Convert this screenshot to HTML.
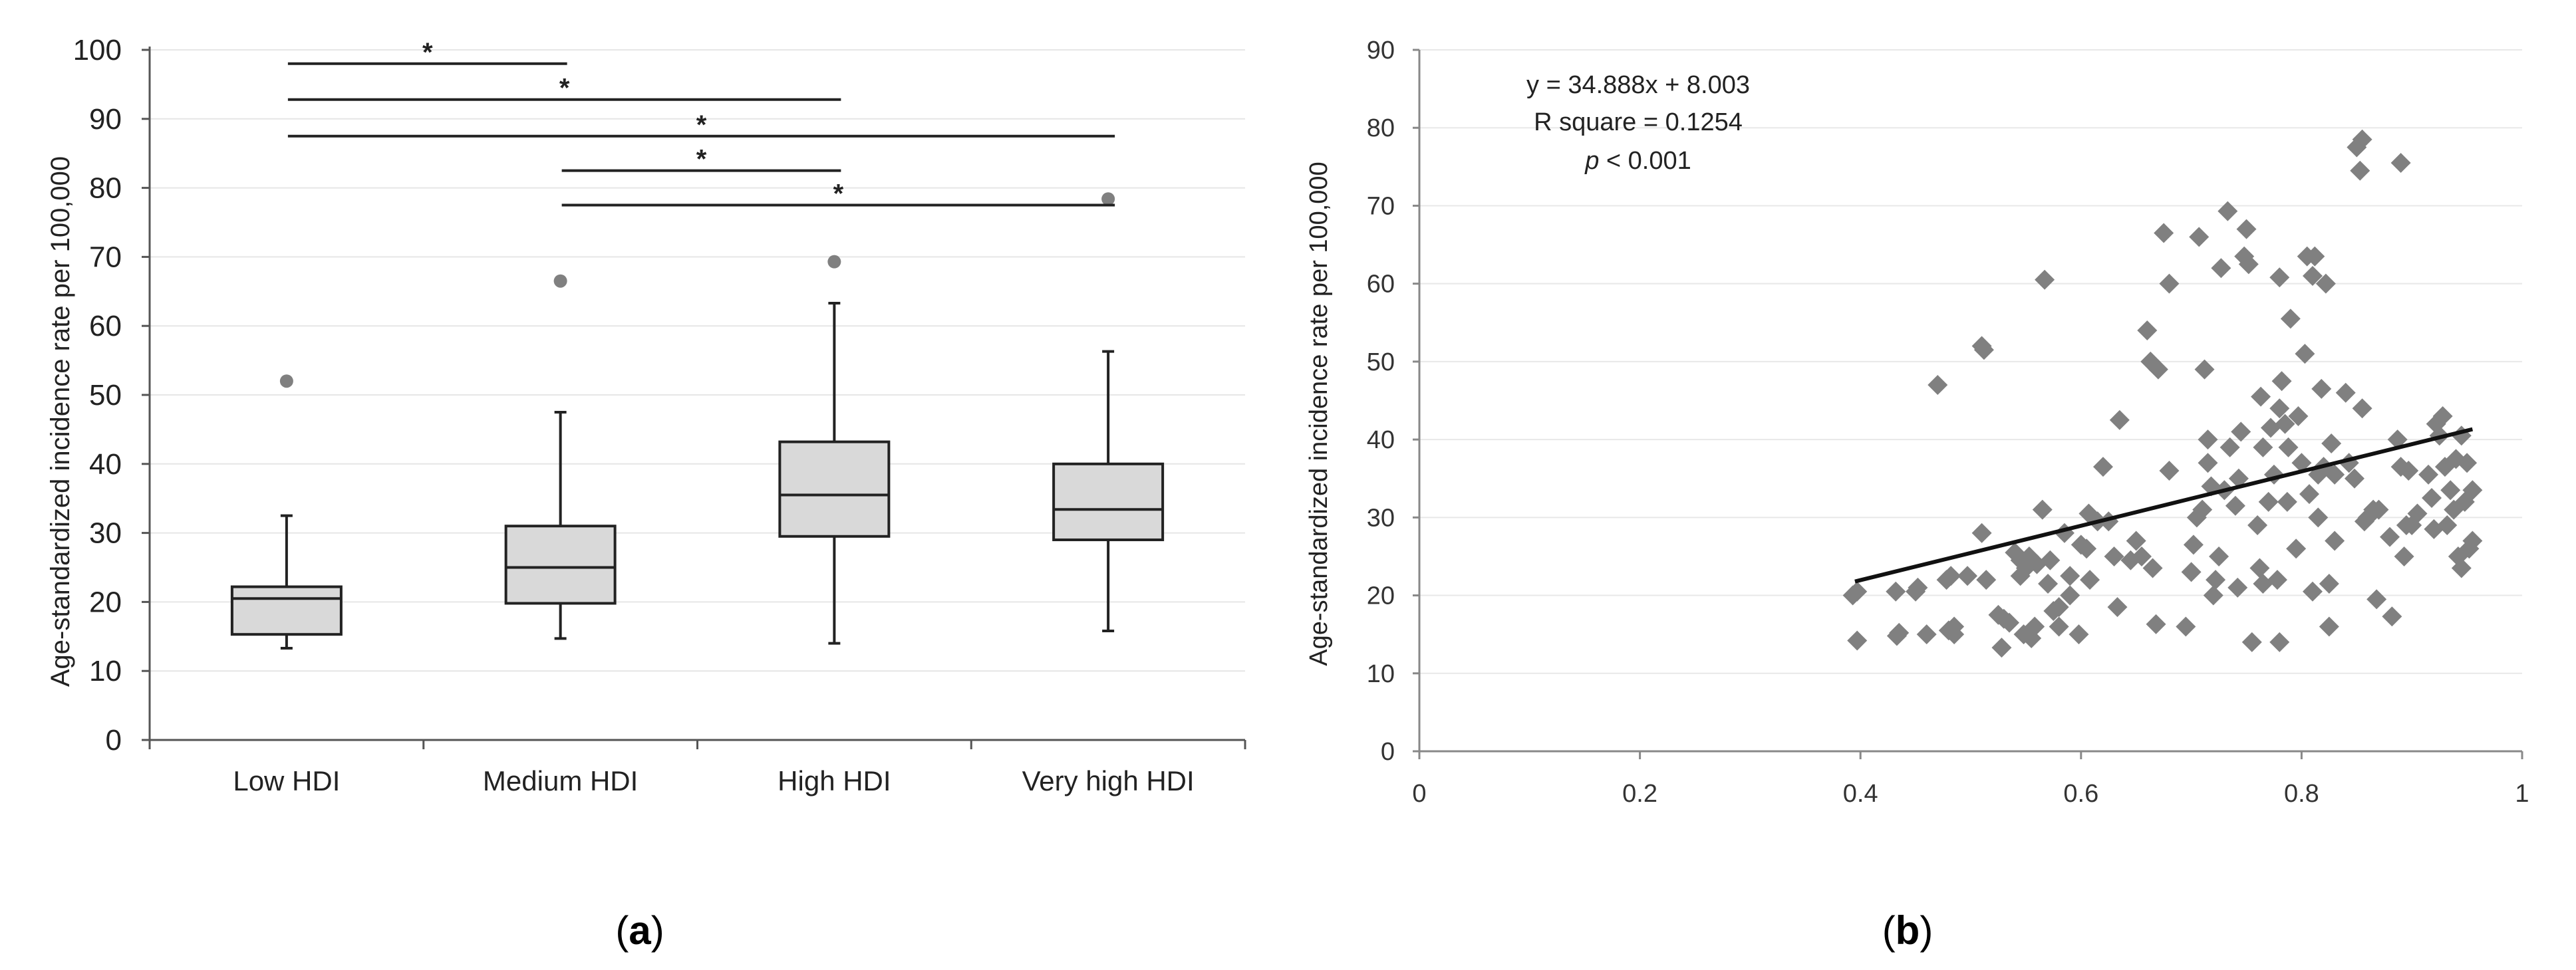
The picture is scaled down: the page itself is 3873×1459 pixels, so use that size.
<!DOCTYPE html>
<html><head><meta charset="utf-8"><style>
html,body{margin:0;padding:0;background:#fff;}
svg{display:block;}
text{font-family:"Liberation Sans",sans-serif;}
</style></head><body>
<svg id="svg" width="3873" height="1459" viewBox="0 0 3873 1459" xmlns="http://www.w3.org/2000/svg">
<g id="pa"></g>
<g id="pb"></g>
<text x="962" y="1420" font-family="Liberation Serif,serif" font-size="60" text-anchor="middle">(<tspan font-weight="bold">a</tspan>)</text>
<text x="2868" y="1420" font-family="Liberation Serif,serif" font-size="60" text-anchor="middle">(<tspan font-weight="bold">b</tspan>)</text>
</svg>
<script>
// Panel A data
const categories=["Low HDI","Medium HDI","High HDI","Very high HDI"];
const whiskerLow=[13.3,14.7,14.0,15.8];
const q1=[15.3,19.8,29.5,29.0];
const medians=[20.5,25.0,35.5,33.4];
const q3=[22.2,31.0,43.2,40.0];
const whiskerHigh=[32.5,47.5,63.3,56.3];
const outliers=[52.0,66.5,69.3,78.4];
const yTicksA=[0,10,20,30,40,50,60,70,80,90,100];
const sigFrom=[0,0,0,1,1];
const sigTo=[1,2,3,2,3];
const sigLevel=[98,92.8,87.5,82.5,77.5];
// Panel B data
const hdi=[0.393,0.397,0.397,0.432,0.433,0.435,0.45,0.452,0.46,0.47,0.478,0.482,0.48,0.485,0.485,0.497,0.51,0.51,0.512,0.514,0.525,0.53,0.528,0.535,0.54,0.545,0.545,0.55,0.553,0.548,0.555,0.558,0.56,0.565,0.567,0.57,0.572,0.575,0.58,0.58,0.585,0.59,0.59,0.598,0.6,0.605,0.607,0.608,0.615,0.62,0.625,0.63,0.633,0.635,0.645,0.65,0.655,0.66,0.663,0.665,0.668,0.67,0.675,0.68,0.68,0.695,0.7,0.702,0.705,0.707,0.71,0.712,0.715,0.715,0.718,0.72,0.722,0.725,0.727,0.73,0.733,0.735,0.74,0.742,0.743,0.745,0.748,0.75,0.752,0.755,0.76,0.762,0.763,0.765,0.765,0.77,0.772,0.775,0.778,0.78,0.78,0.78,0.782,0.785,0.787,0.788,0.79,0.795,0.797,0.8,0.803,0.805,0.807,0.81,0.81,0.812,0.815,0.815,0.818,0.82,0.822,0.825,0.825,0.827,0.83,0.83,0.84,0.843,0.848,0.85,0.853,0.855,0.855,0.857,0.86,0.865,0.868,0.87,0.88,0.882,0.887,0.89,0.89,0.893,0.895,0.897,0.9,0.905,0.915,0.918,0.92,0.922,0.925,0.928,0.93,0.932,0.935,0.938,0.94,0.942,0.945,0.945,0.948,0.95,0.952,0.955,0.955];
const rate=[20,20.5,14.2,20.5,14.8,15.2,20.5,21,15,47,22,22.5,15.5,16,15,22.5,28,52,51.5,22,17.5,17,13.3,16.5,25.5,22.5,24.5,23.5,25,15,14.5,16,24,31,60.5,21.5,24.5,18,18.5,16,28,22.5,20,15,26.5,26,30.5,22,29.5,36.5,29.5,25,18.5,42.5,24.5,27,25,54,50,23.5,16.3,49,66.5,60,36,16,23,26.5,30,66,31,49,37,40,34,20,22,25,62,33.5,69.3,39,31.5,21,35,41,63.5,67,62.5,14,29,23.5,45.5,39,21.5,32,41.5,35.5,22,44,60.8,14,47.5,42,32,39,55.5,26,43,37,51,63.5,33,61,20.5,63.5,35.5,30,46.5,36.5,60,21.5,16,39.5,27,35.5,46,37,35,77.5,74.5,78.5,44,29.5,30,31,19.5,31,27.5,17.3,40,75.5,36.5,25,29,36,29,30.5,35.5,32.5,28.5,42,40.5,43,36.5,29,33.5,31,37.5,25,40.5,23.5,32,37,26,33.5,27];
const xTicksB=[0,0.2,0.4,0.6,0.8,1];
const xTickLabelsB=["0","0.2","0.4","0.6","0.8","1"];
const yTicksB=[0,10,20,30,40,50,60,70,80,90];
const slope=34.888, intercept=8.003, fitStart=0.395, fitEnd=0.955;

const NS="http://www.w3.org/2000/svg";
function mk(p,t,a,txt){const e=document.createElementNS(NS,t);for(const k in a)e.setAttribute(k,a[k]);if(txt!==undefined)e.textContent=txt;p.appendChild(e);return e;}

// ---- Panel A ----
const pa=document.getElementById('pa');
const axL=225,axR=1872,yTop=75,yBot=1113;
const ya=v=>yBot-(v/100)*(yBot-yTop);
const bandW=(axR-axL)/categories.length;
const xc=i=>axL+bandW*(i+0.5);
yTicksA.forEach(t=>{
  if(t>0){const g=mk(pa,'line',{x1:axL,x2:axR,y1:ya(t),y2:ya(t),stroke:'#e6e6e6','stroke-width':2});
  
  }
  const tk=mk(pa,'line',{x1:axL-12,x2:axL,y1:ya(t),y2:ya(t),stroke:'#555','stroke-width':3});
  
  
  const l=mk(pa,'text',{x:183,y:ya(t)+15,'font-size':44,'text-anchor':'end',fill:'#222'},String(t));
  
  
});
const axy=mk(pa,'line',{x1:axL,x2:axL,y1:yTop-5,y2:yBot,stroke:'#555','stroke-width':3});


const axx=mk(pa,'line',{x1:axL,x2:axR,y1:yBot,y2:yBot,stroke:'#555','stroke-width':3});


for(let i=0;i<=categories.length;i++){const t=mk(pa,'line',{x1:axL+bandW*i,x2:axL+bandW*i,y1:yBot,y2:yBot+14,stroke:'#555','stroke-width':3});

}
const yt=mk(pa,'text',{x:0,y:0,'font-size':40,'text-anchor':'middle',fill:'#222',transform:`translate(104,${(yTop+yBot)/2+40}) rotate(-90)`},'Age-standardized  incidence rate per 100,000');


const bw=164;
categories.forEach((c,i)=>{
  const x=xc(i);
  const cl=mk(pa,'text',{x:x,y:1189,'font-size':42,'text-anchor':'middle',fill:'#222'},c);
  
  
  const g=mk(pa,'g',{});
  
  
  mk(g,'line',{x1:x,x2:x,y1:ya(whiskerHigh[i]),y2:ya(q3[i]),stroke:'#222','stroke-width':4});
  mk(g,'line',{x1:x,x2:x,y1:ya(q1[i]),y2:ya(whiskerLow[i]),stroke:'#222','stroke-width':4});
  mk(g,'line',{x1:x-9,x2:x+9,y1:ya(whiskerHigh[i]),y2:ya(whiskerHigh[i]),stroke:'#222','stroke-width':4});
  mk(g,'line',{x1:x-9,x2:x+9,y1:ya(whiskerLow[i]),y2:ya(whiskerLow[i]),stroke:'#222','stroke-width':4});
  mk(g,'rect',{x:x-bw/2,y:ya(q3[i]),width:bw,height:ya(q1[i])-ya(q3[i]),fill:'#d9d9d9',stroke:'#222','stroke-width':4});
  mk(g,'line',{x1:x-bw/2,x2:x+bw/2,y1:ya(medians[i]),y2:ya(medians[i]),stroke:'#222','stroke-width':4});
  const o=mk(pa,'ellipse',{cx:x,cy:ya(outliers[i]),rx:10,ry:10,fill:'#808080'});
  
  
});
sigLevel.forEach((lv,k)=>{
  const x1=xc(sigFrom[k])+2,x2=xc(sigTo[k])+10;
  const l=mk(pa,'line',{x1:x1,x2:x2,y1:ya(lv),y2:ya(lv),stroke:'#222','stroke-width':4});
  
  
  const s=mk(pa,'text',{x:(x1+x2)/2,y:ya(lv)-4,'font-size':40,'font-weight':'bold','text-anchor':'middle',fill:'#222'},'*');
  
  
});

// ---- Panel B ----
const pb=document.getElementById('pb');
const bL=2134,bR=3792,bTop=75,bBot=1130;
const xb=v=>bL+v*(bR-bL);
const yb=v=>bBot-(v/90)*(bBot-bTop);
yTicksB.forEach(t=>{
  if(t>0){const g=mk(pb,'line',{x1:bL,x2:bR,y1:yb(t),y2:yb(t),stroke:'#e8e8e8','stroke-width':2});
  
  }
  const tk=mk(pb,'line',{x1:bL-10,x2:bL,y1:yb(t),y2:yb(t),stroke:'#888','stroke-width':3});
  
  
  const l=mk(pb,'text',{x:2097,y:yb(t)+13,'font-size':38,'text-anchor':'end',fill:'#333'},String(t));
  
  
});
const bay=mk(pb,'line',{x1:bL,x2:bL,y1:bTop,y2:bBot,stroke:'#888','stroke-width':3});


const bax=mk(pb,'line',{x1:bL,x2:bR,y1:bBot,y2:bBot,stroke:'#888','stroke-width':3});


xTicksB.forEach((t,i)=>{
  const tk=mk(pb,'line',{x1:xb(t),x2:xb(t),y1:bBot,y2:bBot+12,stroke:'#888','stroke-width':3});
  
  
  const l=mk(pb,'text',{x:xb(t),y:1206,'font-size':38,'text-anchor':'middle',fill:'#333'},xTickLabelsB[i]);
  
  
});
const ybt=mk(pb,'text',{x:0,y:0,'font-size':38,'text-anchor':'middle',fill:'#222',transform:`translate(1995,${(bTop+bBot)/2+20}) rotate(-90)`},'Age-standardized  incidence rate per 100,000');


hdi.forEach((h,i)=>{
  const cx=xb(h),cy=yb(rate[i]),r=15;
  const d=mk(pb,'polygon',{points:`${cx},${cy-r} ${cx+r},${cy} ${cx},${cy+r} ${cx-r},${cy}`,fill:'#808080'});
  
  
});
const fit=mk(pb,'line',{x1:xb(fitStart),y1:yb(slope*fitStart+intercept),x2:xb(fitEnd),y2:yb(slope*fitEnd+intercept),stroke:'#111','stroke-width':6});


const eq=mk(pb,'text',{x:2463,y:140,'font-size':38,'text-anchor':'middle',fill:'#222'},'y = 34.888x + 8.003');


const r2=mk(pb,'text',{x:2463,y:196,'font-size':38,'text-anchor':'middle',fill:'#222'},'R square = 0.1254');


const pv=mk(pb,'text',{x:2463,y:254,'font-size':38,'text-anchor':'middle',fill:'#222'});


mk(pv,'tspan',{'font-style':'italic'},'p');
mk(pv,'tspan',{},' < 0.001');
</script>
</body></html>
